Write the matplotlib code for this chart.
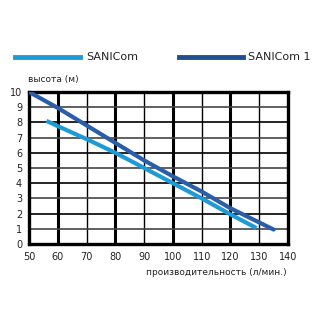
import matplotlib.pyplot as plt
from matplotlib.lines import Line2D

# flow (l/min) and head (m)
sanicom_x = [56, 60, 70, 80, 90, 100, 110, 120, 129]
sanicom_y = [8.1, 7.75, 6.9, 6.0, 5.0, 4.0, 3.0, 1.95, 1.05]
sanicom1_x = [50, 60, 70, 80, 90, 100, 110, 120, 135]
sanicom1_y = [10.0, 8.95, 7.8, 6.65, 5.5, 4.45, 3.45, 2.35, 0.95]

x_ticks = [50, 60, 70, 80, 90, 100, 110, 120, 130, 140]
y_ticks = [0, 1, 2, 3, 4, 5, 6, 7, 8, 9, 10]

light = '#1e9ad8'
dark = '#2a5ea8'

fig = plt.figure(figsize=(3.2, 3.2), dpi=100)
ax = fig.add_axes([0.091, 0.2375, 0.809, 0.475])

# grid: heavy verticals every 20, light ones in between
for x in x_ticks[1:-1]:
    ax.axvline(x, color='black', lw=2.2 if x % 20 == 0 else 1.0, zorder=1)
for y in y_ticks[1:-1]:
    ax.axhline(y, color='black' if y % 2 == 0 else '#444444', lw=1.2, zorder=1)

ax.plot(sanicom1_x, sanicom1_y, color=dark, lw=3.0, solid_capstyle='round', zorder=3)
ax.plot(sanicom_x, sanicom_y, color=light, lw=3.0, solid_capstyle='butt', zorder=3)

ax.set_xlim(50, 140)
ax.set_ylim(0, 10)
ax.set_xticks(x_ticks)
ax.set_yticks(y_ticks)
ax.tick_params(length=0, labelsize=7, colors='#222222', pad=6)
ax.tick_params(axis='y', pad=5)
for s in ax.spines.values():
    s.set_linewidth(2.4)

fig.text(0.087, 0.745, 'высота (м)', fontsize=6.5, color='#222222')
fig.text(0.897, 0.14, 'производительность (л/мин.)', fontsize=6.5,
         color='#222222', ha='right')

# legend drawn in figure coords
fig.add_artist(Line2D([0.047, 0.25], [0.822, 0.822], color=light, lw=3.5))
fig.text(0.268, 0.822, 'SANICom', fontsize=8, va='center', color='#222222')
fig.add_artist(Line2D([0.56, 0.76], [0.822, 0.822], color='#1f4f90', lw=3.5))
fig.text(0.775, 0.822, 'SANICom 1', fontsize=8, va='center', color='#222222')

fig.savefig('out.png', dpi=100)
